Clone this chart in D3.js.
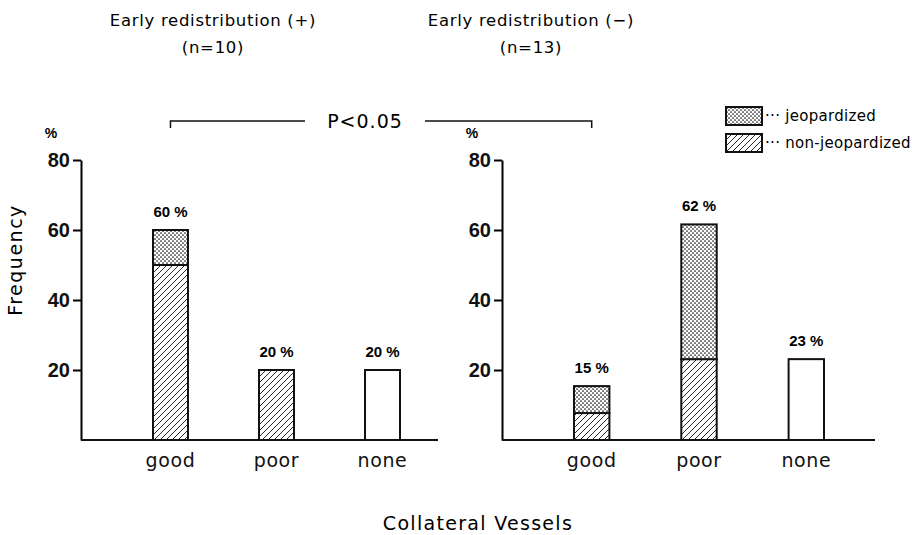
<!DOCTYPE html>
<html>
<head>
<meta charset="utf-8">
<script src="https://cdn.jsdelivr.net/npm/d3@7"></script>
<style>
  body { margin: 0; background: #fff; }
  svg { display: block; }
  .tick text { font-family: "Liberation Sans Narrow", "Liberation Sans", sans-serif; }
</style>
</head>
<body>
<svg width="912" height="535"></svg>
<script>
// data (percent of patients)
var categories = ["good", "poor", "none"];
var leftNonJeop = [50, 20, 0];
var leftJeop = [10, 0, 0];
var leftNone = [0, 0, 20];
var leftLabels = ["60 %", "20 %", "20 %"];
var rightNonJeop = [7.7, 23.1, 0];
var rightJeop = [7.7, 38.5, 0];
var rightNone = [0, 0, 23.1];
var rightLabels = ["15 %", "62 %", "23 %"];
var yTicks = [20, 40, 60, 80];
var titles = [["Early redistribution (+)", "(n=10)"], ["Early redistribution (\u2212)", "(n=13)"]];

var svg = d3.select("svg");
var defs = svg.append("defs");

var hatch = defs.append("pattern")
    .attr("id", "hatch")
    .attr("patternUnits", "userSpaceOnUse")
    .attr("width", 6).attr("height", 6);
hatch.append("rect").attr("width", 6).attr("height", 6).attr("fill", "#fff");
hatch.append("path")
    .attr("d", "M0,6L6,0M-1,1L1,-1M5,7L7,5")
    .attr("stroke", "#111").attr("stroke-width", 0.9);

var dots = defs.append("pattern")
    .attr("id", "dots")
    .attr("patternUnits", "userSpaceOnUse")
    .attr("width", 4).attr("height", 4);
dots.append("rect").attr("width", 4).attr("height", 4).attr("fill", "#fff");
dots.append("circle").attr("cx", 1).attr("cy", 1).attr("r", 0.85).attr("fill", "#111");
dots.append("circle").attr("cx", 3).attr("cy", 3).attr("r", 0.85).attr("fill", "#111");

var fills = {nonJeop: "url(#hatch)", jeop: "url(#dots)", none: "#fff"};
var keys = ["nonJeop", "jeop", "none"];

var y = d3.scaleLinear().domain([0, 80]).range([440, 160]);

var panels = [
    {x0: 81, x1: 438, band: [153, 400], nonJeop: leftNonJeop, jeop: leftJeop, none: leftNone, labels: leftLabels, title: titles[0], tx: 213},
    {x0: 502, x1: 875, band: [574, 824], nonJeop: rightNonJeop, jeop: rightJeop, none: rightNone, labels: rightLabels, title: titles[1], tx: 531}
];

var scales = [];

panels.forEach(function (p) {
    var x = d3.scaleBand().domain(categories).range(p.band).paddingInner(0.67).paddingOuter(0);
    scales.push(x);

    var rows = categories.map(function (c, i) {
        return {cat: c, label: p.labels[i], nonJeop: p.nonJeop[i], jeop: p.jeop[i], none: p.none[i]};
    });
    var series = d3.stack().keys(keys)(rows);

    var g = svg.append("g");

    // titles
    g.append("text")
        .attr("x", p.tx).attr("y", 26)
        .attr("text-anchor", "middle")
        .style("font-family", "DejaVu Sans")
        .style("font-size", "16.5px")
        .style("letter-spacing", "0.7px")
        .text(p.title[0]);
    g.append("text")
        .attr("x", p.tx).attr("y", 53)
        .attr("text-anchor", "middle")
        .style("font-family", "DejaVu Sans")
        .style("font-size", "16.5px")
        .style("letter-spacing", "0.7px")
        .text(p.title[1]);

    // y axis
    var ya = g.append("g")
        .attr("transform", "translate(" + p.x0 + ",0)")
        .call(d3.axisLeft(y).tickValues(yTicks).tickSize(8).tickSizeOuter(0).tickPadding(3));
    ya.select(".domain").attr("stroke-width", 2);
    ya.selectAll(".tick line").attr("stroke-width", 2);
    ya.selectAll(".tick text")
        .style("font-size", "20px")
        .style("font-weight", "bold")
        .attr("fill", "#111");

    g.append("text")
        .attr("x", p.x0 - 30).attr("y", 138)
        .attr("text-anchor", "middle")
        .style("font-family", "Liberation Sans Narrow, Liberation Sans, sans-serif")
        .style("font-size", "14px")
        .style("font-weight", "bold")
        .text("%");

    // baseline
    g.append("line")
        .attr("x1", p.x0).attr("x2", p.x1)
        .attr("y1", y(0)).attr("y2", y(0))
        .attr("stroke", "#111").attr("stroke-width", 2);

    // bars
    g.selectAll(".layer")
        .data(series)
        .enter().append("g")
        .attr("class", "layer")
        .attr("fill", function (d) { return fills[d.key]; })
        .selectAll("rect")
        .data(function (d) { return d.filter(function (s) { return s[1] > s[0]; }); })
        .enter().append("rect")
        .attr("x", function (d) { return x(d.data.cat); })
        .attr("width", x.bandwidth())
        .attr("y", function (d) { return y(d[1]); })
        .attr("height", function (d) { return y(d[0]) - y(d[1]); })
        .attr("stroke", "#111")
        .attr("stroke-width", 2);

    // value labels
    g.selectAll(".val")
        .data(rows)
        .enter().append("text")
        .attr("class", "val")
        .attr("x", function (d) { return x(d.cat) + x.bandwidth() / 2; })
        .attr("y", function (d) { return y(d.nonJeop + d.jeop + d.none) - 13; })
        .attr("text-anchor", "middle")
        .style("font-family", "Liberation Sans Narrow, Liberation Sans, sans-serif")
        .style("font-size", "15px")
        .style("font-weight", "bold")
        .text(function (d) { return d.label; });

    // category labels
    var xa = g.append("g")
        .attr("transform", "translate(0," + y(0) + ")")
        .call(d3.axisBottom(x).tickSize(0).tickPadding(14));
    xa.select(".domain").remove();
    xa.selectAll(".tick text")
        .style("font-family", "DejaVu Sans")
        .style("font-size", "19px")
        .style("letter-spacing", "0.6px")
        .attr("fill", "#111");
});

// frequency label
svg.append("text")
    .attr("transform", "translate(22,260) rotate(-90)")
    .attr("text-anchor", "middle")
    .style("font-family", "DejaVu Sans")
    .style("font-size", "19px")
    .style("letter-spacing", "1.5px")
    .text("Frequency");

svg.append("text")
    .attr("x", 478).attr("y", 530)
    .attr("text-anchor", "middle")
    .style("font-family", "DejaVu Sans")
    .style("font-size", "19px")
    .style("letter-spacing", "1.3px")
    .text("Collateral  Vessels");

// significance bracket between the two "good" bars
var bx1 = scales[0]("good") + scales[0].bandwidth() / 2;
var bx2 = scales[1]("good") + scales[1].bandwidth() / 2;
var by = 121;
var bracket = svg.append("g").attr("stroke", "#111").attr("stroke-width", 1.5).attr("fill", "none");
bracket.append("path").attr("d", "M" + bx1 + "," + (by + 7) + "V" + by + "H305");
bracket.append("path").attr("d", "M425," + by + "H" + bx2 + "V" + (by + 7));
svg.append("text")
    .attr("x", 365).attr("y", by + 7)
    .attr("text-anchor", "middle")
    .style("font-family", "DejaVu Sans")
    .style("font-size", "19px")
    .style("letter-spacing", "1px")
    .text("P<0.05");

// legend
var legend = svg.append("g").attr("transform", "translate(726,107)");
var legItems = [{key: "jeop", text: "jeopardized"}, {key: "nonJeop", text: "non-jeopardized"}];
legItems.forEach(function (d, i) {
    var row = legend.append("g").attr("transform", "translate(0," + i * 27 + ")");
    row.append("rect")
        .attr("width", 36).attr("height", 18)
        .attr("fill", fills[d.key])
        .attr("stroke", "#111").attr("stroke-width", 2);
    row.append("text")
        .attr("x", 39).attr("y", 14)
        .style("font-family", "DejaVu Sans")
        .style("font-size", "15px")
        .style("letter-spacing", "0.3px")
        .text("\u00b7\u00b7\u00b7 " + d.text);
});
</script>
</body>
</html>
